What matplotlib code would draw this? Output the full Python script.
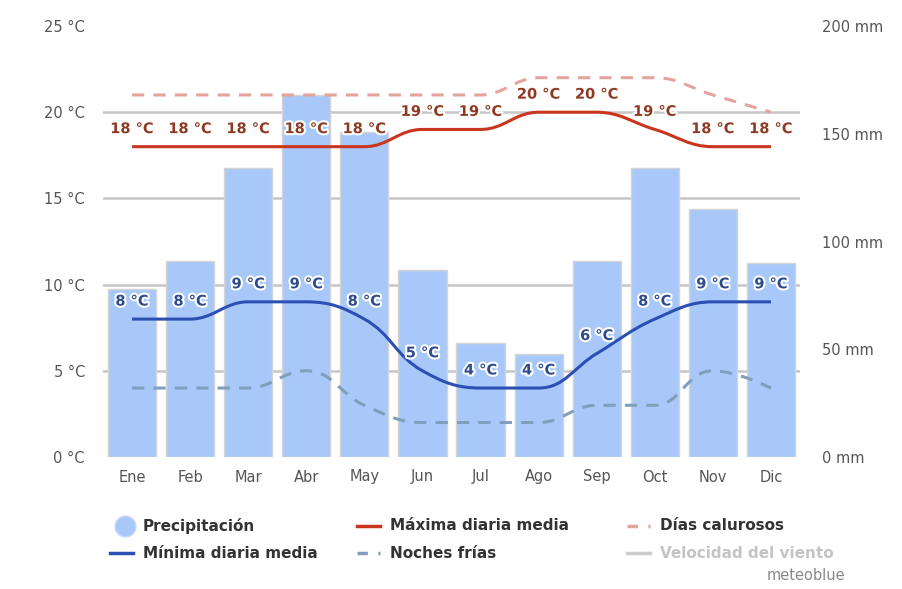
import numpy as np
import matplotlib
matplotlib.use("Agg")
import matplotlib.pyplot as plt
import matplotlib.patheffects as pe
from matplotlib.path import Path
from matplotlib.patches import PathPatch
from matplotlib.lines import Line2D

months = ["Ene", "Feb", "Mar", "Abr", "May", "Jun", "Jul", "Ago", "Sep", "Oct", "Nov", "Dic"]
precip_mm = [78, 91, 134, 168, 151, 87, 53, 48, 91, 134, 115, 90]
t_max = [18, 18, 18, 18, 18, 19, 19, 20, 20, 19, 18, 18]
t_min = [8, 8, 9, 9, 8, 5, 4, 4, 6, 8, 9, 9]
hot_days = [21, 21, 21, 21, 21, 21, 21, 22, 22, 22, 21, 20]
cold_nights = [4, 4, 4, 5, 3, 2, 2, 2, 3, 3, 5, 4]

c_bar = "#a8c8fa"
c_max = "#c9361d"
c_min = "#2c4fb3"
c_hot = "#e3a39e"
c_cold = "#809fbd"
c_grid = "#c6c6c6"
c_tick = "#555555"


def spline_path(x, y, sx=58.0, sy=17.24):
    # smooth curve through the points (same style as the web chart)
    px = np.asarray(x, float) * sx
    py = np.asarray(y, float) * sy
    n = len(px)
    lcx, lcy = px.copy(), py.copy()
    rcx, rcy = px.copy(), py.copy()
    for i in range(1, n - 1):
        a = (1.5 * px[i] + px[i - 1]) / 2.5
        b = (1.5 * py[i] + py[i - 1]) / 2.5
        c = (1.5 * px[i] + px[i + 1]) / 2.5
        d = (1.5 * py[i] + py[i + 1]) / 2.5
        dl = np.hypot(a - px[i], b - py[i])
        dr = np.hypot(c - px[i], d - py[i])
        la = np.arctan2(b - py[i], a - px[i])
        ra = np.arctan2(d - py[i], c - px[i])
        corr = np.pi / 2 + (la + ra) / 2
        if abs(la - corr) > np.pi / 2:
            corr -= np.pi
        a = px[i] + np.cos(corr) * dl
        b = py[i] + np.sin(corr) * dl
        c = px[i] + np.cos(np.pi + corr) * dr
        d = py[i] + np.sin(np.pi + corr) * dr
        if b > py[i - 1] and b > py[i]:
            b = max(py[i - 1], py[i]); d = 2 * py[i] - b
        elif b < py[i - 1] and b < py[i]:
            b = min(py[i - 1], py[i]); d = 2 * py[i] - b
        if d > py[i + 1] and d > py[i]:
            d = max(py[i + 1], py[i]); b = 2 * py[i] - d
        elif d < py[i + 1] and d < py[i]:
            d = min(py[i + 1], py[i]); b = 2 * py[i] - d
        lcx[i], lcy[i], rcx[i], rcy[i] = a, b, c, d
    verts = [(px[0], py[0])]
    codes = [Path.MOVETO]
    for i in range(1, n):
        verts += [(rcx[i - 1], rcy[i - 1]), (lcx[i], lcy[i]), (px[i], py[i])]
        codes += [Path.CURVE4] * 3
    verts = np.array(verts) / [sx, sy]
    return Path(verts, codes)


fig = plt.figure(figsize=(9.03, 5.89), dpi=100)
ax2 = fig.add_axes([103 / 903, 1 - 457 / 589, 697 / 903, 431 / 589])
ax = ax2.twinx()
ax.set_zorder(ax2.get_zorder() + 1)
ax.patch.set_visible(False)

x = np.arange(len(months))

# precipitation bars on mm axis (right)
ax2.bar(x, precip_mm, width=0.83, color=c_bar, edgecolor="#d4d4d4", linewidth=1, zorder=2)
ax2.set_ylim(0, 200)
ax2.set_xlim(-0.5, 11.5)
ax2.set_yticks(np.arange(0, 201, 40), minor=True)
ax2.grid(which="minor", axis="y", color=c_grid, linewidth=1.8, zorder=0)
ax2.set_axisbelow(True)
ax2.set_yticks(np.arange(0, 201, 50))
ax2.set_yticklabels([f"{v} mm" for v in range(0, 201, 50)])
ax2.yaxis.tick_right()
ax2.tick_params(axis="y", which="both", length=0, pad=16, labelsize=10.5, labelcolor=c_tick)
ax2.set_xticks(x)
ax2.set_xticklabels(months)
ax2.tick_params(axis="x", length=0, pad=9, labelsize=10.5, labelcolor=c_tick)

# temperature axis (left)
ax.set_ylim(0, 25)
ax.set_yticks(np.arange(0, 26, 5))
ax.set_yticklabels([f"{v} °C" for v in range(0, 26, 5)])
ax.yaxis.tick_left()
ax.tick_params(axis="y", length=0, pad=13, labelsize=10.5, labelcolor=c_tick)

for a in (ax, ax2):
    for s in a.spines.values():
        s.set_visible(False)

for vals, col, ls in [(hot_days, c_hot, (0, (4, 3))),
                      (cold_nights, c_cold, (0, (4, 3))),
                      (t_max, c_max, "-"),
                      (t_min, c_min, "-")]:
    ax.add_patch(PathPatch(spline_path(x, vals), facecolor="none", edgecolor=col,
                           linestyle=ls, linewidth=2.2, capstyle="butt", zorder=3))

halo = [pe.withStroke(linewidth=3, foreground="white")]
for vals, col in [(t_max, "#8e3a22"), (t_min, "#2d4a8c")]:
    for i, v in enumerate(vals):
        ax.annotate(f"{v} °C", (i, v), xytext=(0, 13), textcoords="offset points",
                    ha="center", va="center", fontsize=10.5, fontweight="bold",
                    color=col, path_effects=halo, zorder=5)

# legend
def fx(px):
    return px / 903


def fy(py):
    return 1 - py / 589


fig.add_artist(Line2D([fx(125)], [fy(526)], marker="o", markersize=15,
                      markerfacecolor=c_bar, markeredgecolor="#c8daf8", linestyle="none"))
items = [
    (143, 526, None, None, "Precipitación", "#333333"),
    (390, 526, c_max, "-", "Máxima diaria media", "#333333"),
    (660, 526, c_hot, (0, (3, 3)), "Días calurosos", "#333333"),
    (143, 553, c_min, "-", "Mínima diaria media", "#333333"),
    (390, 553, c_cold, (0, (3, 3)), "Noches frías", "#333333"),
    (660, 553, "#cccccc", "-", "Velocidad del viento", "#c4c4c4"),
]
for px_, py_, col, ls, label, tc in items:
    if col is not None:
        fig.add_artist(Line2D([fx(px_ - 33), fx(px_ - 10)], [fy(py_), fy(py_)],
                              color=col, linestyle=ls, linewidth=2.5))
    fig.text(fx(px_), fy(py_), label, ha="left", va="center", fontsize=11,
             fontweight="bold", color=tc)

fig.text(fx(845), fy(576), "meteoblue", ha="right", va="center", fontsize=10.5, color="#888888")

fig.savefig("out.png", dpi=100)
